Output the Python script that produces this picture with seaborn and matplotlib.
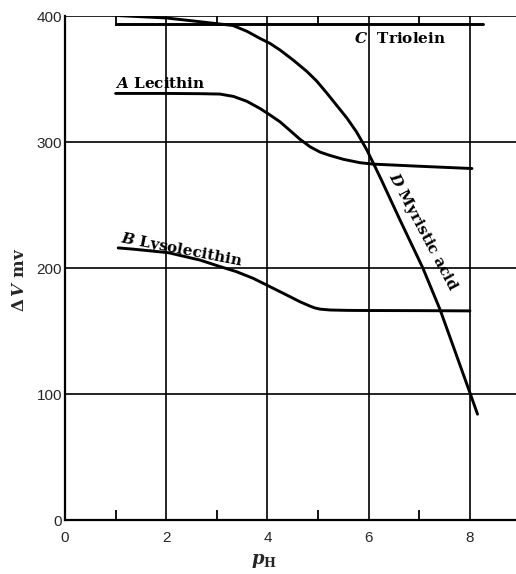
import matplotlib
matplotlib.use("Agg")
import matplotlib.pyplot as plt
import seaborn as sns
import pandas as pd

# curve A: lecithin
lecithin_ph = [1.0, 2.0, 2.67, 3.06, 3.33, 3.59, 3.85, 4.05, 4.25, 4.45, 4.64, 4.84, 5.04, 5.24,
               5.50, 5.83, 6.09, 7.0, 8.04]
lecithin_dv = [338.6, 338.6, 338.4, 338.1, 336.2, 332.4, 326.7, 321.5, 316.0, 309.0, 302.3, 296.3,
               292.0, 289.3, 286.3, 283.6, 282.5, 280.8, 279.0]

# curve B: lysolecithin
lyso_ph = [1.05, 1.35, 2.04, 2.67, 3.06, 3.39, 3.72, 4.05, 4.38, 4.64, 4.84, 4.94, 5.04, 5.24,
           5.6, 6.0, 7.0, 8.0]
lyso_dv = [216.0, 215.0, 212.2, 206.3, 201.2, 197.1, 191.8, 185.2, 178.6, 173.3, 169.8, 168.3,
           167.4, 166.7, 166.4, 166.3, 166.2, 166.0]

# curve C: triolein
triolein_ph = [1.0, 8.25]
triolein_dv = [393.5, 393.5]

# curve D: myristic acid
myristic_ph = [1.0, 2.0, 2.67, 3.32, 3.6, 3.85, 4.05, 4.25, 4.51, 4.78, 4.97, 5.17, 5.37, 5.57,
               5.76, 5.96, 6.13, 6.25, 6.4, 6.62, 7.07, 7.41, 8.0, 8.15]
myristic_dv = [400.5, 398.5, 395.5, 392.5, 387.8, 382.3, 378.3, 373.0, 365.0, 356.0, 348.5, 339.0,
               329.0, 319.0, 308.0, 294.0, 280.0, 270.0, 257.0, 238.0, 200.0, 167.0, 101.0, 84.0]

x_ticks = [0, 2, 4, 6, 8]
y_ticks = [0, 100, 200, 300, 400]

frames = []
for name, xs, ys in [("A", lecithin_ph, lecithin_dv), ("B", lyso_ph, lyso_dv),
                     ("C", triolein_ph, triolein_dv), ("D", myristic_ph, myristic_dv)]:
    frames.append(pd.DataFrame({"pH": xs, "dV": ys, "curve": name}))
df = pd.concat(frames, ignore_index=True)

sns.set_theme(style="ticks")
plt.rcParams["font.family"] = ["Liberation Sans", "DejaVu Sans"]
plt.rcParams["mathtext.fontset"] = "custom"
plt.rcParams["mathtext.rm"] = "DejaVu Serif:bold"
plt.rcParams["mathtext.it"] = "DejaVu Serif:italic:bold"
plt.rcParams["mathtext.bf"] = "DejaVu Serif:bold"

fig = plt.figure(figsize=(5.16, 5.74), dpi=100)
ax = fig.add_axes([0.126, 0.094, 0.874, 0.878])

sns.lineplot(data=df, x="pH", y="dV", hue="curve", units="curve", estimator=None, sort=False,
             palette=["black"] * 4, linewidth=2.1, legend=False, ax=ax, zorder=3)

ax.set_xlim(0, 8.91)
ax.set_ylim(0, 400)
ax.set_xticks(x_ticks)
ax.set_yticks(y_ticks)
ax.set_xticks([1, 3, 5, 7], minor=True)
ax.set_xticklabels([str(t) for t in x_ticks], fontsize=11)
ax.set_yticklabels([str(t) for t in y_ticks], fontsize=11)
ax.tick_params(which="major", length=0, pad=8, axis="x")
ax.tick_params(which="major", length=0, pad=2, axis="y")
ax.tick_params(which="minor", direction="in", length=7, width=1.3, color="black", top=True, bottom=True)

ax.grid(True, color="black", linewidth=1.2)
ax.set_axisbelow(True)
for side in ["top", "right"]:
    ax.spines[side].set_visible(False)
for side in ["left", "bottom"]:
    ax.spines[side].set_linewidth(1.6)
    ax.spines[side].set_color("black")

ax.set_xlabel("")
ax.set_ylabel("")
ax.text(-0.1, 0.476, r"$\Delta\,V$ mv", transform=ax.transAxes, rotation=90,
        ha="center", va="center", fontsize=12, family="DejaVu Serif", weight="bold")
ax.text(3.94, -0.082, r"$p_{\mathbf{H}}$", transform=ax.get_xaxis_transform(),
        ha="center", va="center", fontsize=13)

lab = dict(family="DejaVu Serif", weight="bold", fontsize=11, color="black")
ax.text(0.99, 343, r"$A$ Lecithin", ha="left", va="baseline", **lab)
ax.text(2.31, 214, r"$B$ Lysolecithin", ha="center", va="center",
        rotation=-11, rotation_mode="anchor", **lab)
ax.text(5.71, 378.6, r"$C$  Triolein", ha="left", va="baseline", **lab)
ax.text(7.06, 229, r"$D$ Myristic acid", ha="center", va="center",
        rotation=-62, rotation_mode="anchor", **lab)

fig.savefig("out.png", dpi=100)
